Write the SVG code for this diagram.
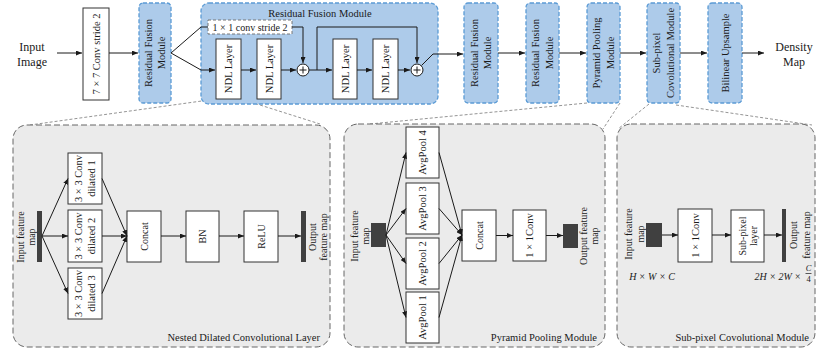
<svg xmlns="http://www.w3.org/2000/svg" width="830" height="352" viewBox="0 0 830 352">
<defs>
<marker id="ah" markerWidth="6" markerHeight="5" refX="6" refY="2.5" orient="auto" markerUnits="userSpaceOnUse">
<path d="M0,0 L6,2.5 L0,5 z" fill="#1a1a1a"/>
</marker>
<style>
.blue{fill:#adcbea;stroke:#5b9bd5;stroke-width:1.3;stroke-dasharray:4 2}
.box{fill:#fff;stroke:#333;stroke-width:1}
.dbox{fill:#fff;stroke:#777;stroke-width:1;stroke-dasharray:3 2}
.panel{fill:#ebebeb;stroke:#666;stroke-width:1;stroke-dasharray:6 3}
.t{font-family:"Liberation Serif","Times New Roman",serif;font-size:10.5px;fill:#1a1a1a;text-anchor:middle}
.s{font-size:10px}
.big{font-size:12px}
.m{font-style:italic;font-size:10px}
.bar{fill:#404040}
.c{stroke:#1a1a1a;stroke-width:1;fill:none}
.a{marker-end:url(#ah)}
.co{stroke:#888;stroke-width:0.9;stroke-dasharray:3 2;fill:none}
</style>
</defs>

<!-- callout lines -->
<g id="callouts">
<path class="co" d="M216,99 L30,125"/>
<path class="co" d="M241,99 L320,124"/>
<path class="co" d="M587,103 L370,124"/>
<path class="co" d="M620,103 L603,129"/>
<path class="co" d="M649,104 L618,129"/>
<path class="co" d="M676,105 L812,125"/>
</g>

<!-- top row -->
<g id="input-image">
<text class="t big" x="32" y="51">Input</text>
<text class="t big" x="32" y="66">Image</text>
</g>
<g id="conv7">
<rect class="box" x="83" y="8" width="26" height="92"/>
<text class="t" transform="translate(96,54) rotate(-90)" y="3.5">7 × 7 Conv stride 2</text>
</g>
<g id="rfm1">
<rect class="blue" x="139" y="3" width="32" height="100" rx="4"/>
<text class="t" transform="translate(155,53) rotate(-90)"><tspan x="0" y="-3.5">Residual Fusion</tspan><tspan x="0" y="10">Module</tspan></text>
</g>
<g id="rfm-detail">
<rect class="blue" x="201" y="3" width="237" height="101" rx="8"/>
<text class="t" x="320" y="17">Residual Fusion Module</text>
</g>
<g id="conv1x1-s2">
<rect class="dbox" x="208" y="20" width="84" height="14"/>
<text class="t s" x="250" y="30.5">1 × 1 conv stride 2</text>
</g>
<g id="ndl1">
<rect class="box" x="216" y="39" width="25" height="60"/>
<text class="t" transform="translate(228.5,69) rotate(-90)" y="3.5">NDL Layer</text>
</g>
<g id="ndl2">
<rect class="box" x="257" y="39" width="24" height="60"/>
<text class="t" transform="translate(269,69) rotate(-90)" y="3.5">NDL Layer</text>
</g>
<g id="add1">
<circle cx="303" cy="70" r="6" fill="#fff" stroke="#1a1a1a" stroke-width="1"/>
<path class="c" d="M299.5,70 H306.5 M303,66.5 V73.5"/>
</g>
<g id="ndl3">
<rect class="box" x="333" y="39" width="24" height="60"/>
<text class="t" transform="translate(345,69) rotate(-90)" y="3.5">NDL Layer</text>
</g>
<g id="ndl4">
<rect class="box" x="373" y="39" width="25" height="60"/>
<text class="t" transform="translate(385.5,69) rotate(-90)" y="3.5">NDL Layer</text>
</g>
<g id="add2">
<circle cx="417" cy="70" r="6" fill="#fff" stroke="#1a1a1a" stroke-width="1"/>
<path class="c" d="M413.5,70 H420.5 M417,66.5 V73.5"/>
</g>
<g id="rfm2">
<rect class="blue" x="464" y="3" width="34" height="100" rx="4"/>
<text class="t" transform="translate(481,53) rotate(-90)"><tspan x="0" y="-3.5">Residual Fusion</tspan><tspan x="0" y="10">Module</tspan></text>
</g>
<g id="rfm3">
<rect class="blue" x="526" y="3" width="33" height="100" rx="4"/>
<text class="t" transform="translate(542.5,53) rotate(-90)"><tspan x="0" y="-3.5">Residual Fusion</tspan><tspan x="0" y="10">Module</tspan></text>
</g>
<g id="ppm">
<rect class="blue" x="587" y="3" width="33" height="100" rx="4"/>
<text class="t" transform="translate(603.5,53) rotate(-90)"><tspan x="0" y="-3.5">Pyramid Pooling</tspan><tspan x="0" y="10">Module</tspan></text>
</g>
<g id="scm">
<rect class="blue" x="647" y="3" width="33" height="100" rx="4"/>
<text class="t" transform="translate(663.5,53) rotate(-90)"><tspan x="0" y="-3.5">Sub-pixel</tspan><tspan x="0" y="10">Covolutional Module</tspan></text>
</g>
<g id="bilinear">
<rect class="blue" x="708" y="3" width="34" height="100" rx="4"/>
<text class="t" transform="translate(725,53) rotate(-90)" y="3.5">Bilinear Upsample</text>
</g>
<g id="density-map">
<text class="t big" x="794" y="51">Density</text>
<text class="t big" x="794" y="66">Map</text>
</g>

<!-- top connectors -->
<g id="connectors-top">
<path class="c a" d="M57,53 H82"/>
<path class="c a" d="M109,53 H138"/>
<path class="c" d="M171,53 L201,27 H208"/>
<path class="c a" d="M171,53 L201,70 H215"/>
<path class="c a" d="M241,70 H256"/>
<path class="c a" d="M281,70 H296"/>
<path class="c a" d="M292,27 H303 V63"/>
<path class="c a" d="M309,70 H332"/>
<path class="c a" d="M317,70 V27 H417 V63"/>
<path class="c a" d="M357,70 H372"/>
<path class="c a" d="M398,70 H410"/>
<path class="c a" d="M421.5,65.5 L433,54 H463"/>
<path class="c a" d="M498,53 H525"/>
<path class="c a" d="M559,53 H586"/>
<path class="c a" d="M620,53 H646"/>
<path class="c a" d="M680,53 H707"/>
<path class="c a" d="M742,53 H764"/>
</g>

<!-- panel 1: NDL -->
<g id="panel-ndl">
<rect class="panel" x="13" y="125" width="317" height="222" rx="14"/>
<text class="t" x="320" y="341" style="text-anchor:end">Nested Dilated Convolutional Layer</text>
</g>
<g id="ndl-input">
<rect class="bar" x="37" y="211" width="5" height="51"/>
<text class="t s" transform="translate(25.5,237) rotate(-90)"><tspan x="0" y="-2">Input feature</tspan><tspan x="0" y="9">map</tspan></text>
</g>
<g id="dil1">
<rect class="box" x="68" y="153" width="34" height="51"/>
<text class="t" transform="translate(85,178.5) rotate(-90)"><tspan x="0" y="-3">3 × 3 Conv</tspan><tspan x="0" y="9.5">dilated 1</tspan></text>
</g>
<g id="dil2">
<rect class="box" x="68" y="210" width="34" height="52"/>
<text class="t" transform="translate(85,236) rotate(-90)"><tspan x="0" y="-3">3 × 3 Conv</tspan><tspan x="0" y="9.5">dilated 2</tspan></text>
</g>
<g id="dil3">
<rect class="box" x="68" y="268" width="34" height="51"/>
<text class="t" transform="translate(85,293.5) rotate(-90)"><tspan x="0" y="-3">3 × 3 Conv</tspan><tspan x="0" y="9.5">dilated 3</tspan></text>
</g>
<g id="ndl-concat">
<rect class="box" x="127" y="211" width="34" height="51"/>
<text class="t s" transform="translate(144,236.5) rotate(-90)" y="3.5">Concat</text>
</g>
<g id="ndl-bn">
<rect class="box" x="186" y="211" width="33" height="51"/>
<text class="t s" transform="translate(202.5,236.5) rotate(-90)" y="3.5">BN</text>
</g>
<g id="ndl-relu">
<rect class="box" x="244" y="211" width="34" height="51"/>
<text class="t s" transform="translate(261,236.5) rotate(-90)" y="3.5">ReLU</text>
</g>
<g id="ndl-output">
<rect class="bar" x="301" y="211" width="5" height="51"/>
<text class="t s" transform="translate(317.5,237) rotate(-90)"><tspan x="0" y="-2">Output</tspan><tspan x="0" y="9">feature map</tspan></text>
</g>

<!-- panel 2: PPM -->
<g id="panel-ppm">
<rect class="panel" x="344" y="124" width="261" height="223" rx="14"/>
<text class="t" x="597" y="341" style="text-anchor:end">Pyramid Pooling Module</text>
</g>
<g id="ppm-input">
<rect class="bar" x="371" y="223" width="15" height="24"/>
<text class="t s" transform="translate(360,236) rotate(-90)"><tspan x="0" y="-2">Input feature</tspan><tspan x="0" y="9">map</tspan></text>
</g>
<g id="avg4">
<rect class="box" x="406" y="127" width="33" height="51"/>
<text class="t" transform="translate(422.5,152.5) rotate(-90)" y="3.5">AvgPool 4</text>
</g>
<g id="avg3">
<rect class="box" x="406" y="183" width="33" height="51"/>
<text class="t" transform="translate(422.5,208.5) rotate(-90)" y="3.5">AvgPool 3</text>
</g>
<g id="avg2">
<rect class="box" x="406" y="238" width="33" height="51"/>
<text class="t" transform="translate(422.5,263.5) rotate(-90)" y="3.5">AvgPool 2</text>
</g>
<g id="avg1">
<rect class="box" x="406" y="292" width="33" height="51"/>
<text class="t" transform="translate(422.5,317.5) rotate(-90)" y="3.5">AvgPool 1</text>
</g>
<g id="ppm-concat">
<rect class="box" x="462" y="210" width="34" height="51"/>
<text class="t s" transform="translate(479,235.5) rotate(-90)" y="3.5">Concat</text>
</g>
<g id="ppm-conv">
<rect class="box" x="513" y="210" width="33" height="51"/>
<text class="t" transform="translate(529.5,235.5) rotate(-90)" y="3.5">1 × 1Conv</text>
</g>
<g id="ppm-output">
<rect class="bar" x="563" y="224" width="15" height="24"/>
<text class="t s" transform="translate(589,236) rotate(-90)"><tspan x="0" y="-2">Output feature</tspan><tspan x="0" y="9">map</tspan></text>
</g>

<!-- panel 3: SCM -->
<g id="panel-scm">
<rect class="panel" x="617" y="124" width="198" height="223" rx="14"/>
<text class="t" x="809" y="341" style="text-anchor:end">Sub-pixel Covolutional Module</text>
</g>
<g id="scm-input">
<rect class="bar" x="646" y="223" width="16" height="24"/>
<text class="t s" transform="translate(634,234) rotate(-90)"><tspan x="0" y="-2">Input feature</tspan><tspan x="0" y="10">map</tspan></text>
<text class="t m" x="652" y="280">H × W × C</text>
</g>
<g id="scm-conv">
<rect class="box" x="678" y="209" width="34" height="53"/>
<text class="t" transform="translate(695,235.5) rotate(-90)" y="3.5">1 × 1Conv</text>
</g>
<g id="scm-subpixel">
<rect class="box" x="731" y="210" width="33" height="52"/>
<text class="t s" transform="translate(747.5,236) rotate(-90)"><tspan x="0" y="-2">Sub-pixel</tspan><tspan x="0" y="9.5">layer</tspan></text>
</g>
<g id="scm-output">
<rect class="bar" x="782" y="209" width="4" height="53"/>
<text class="t s" transform="translate(800,235) rotate(-90)"><tspan x="0" y="-3">Output</tspan><tspan x="0" y="10">feature map</tspan></text>
<text class="t m" x="801" y="280" style="text-anchor:end">2H × 2W ×</text>
<text class="t m" x="808.5" y="271" style="font-size:8.5px">C</text>
<path d="M805.5,273.5 H811.5" stroke="#1a1a1a" stroke-width="0.7"/>
<text class="t" x="808.5" y="282" style="font-size:8.5px">4</text>
</g>

<!-- bottom connectors -->
<g id="connectors-bottom">
<path class="c a" d="M42,236 L68,178.5"/>
<path class="c a" d="M42,236 H68"/>
<path class="c a" d="M42,236 L68,293.5"/>
<path class="c a" d="M102,178.5 L127,236"/>
<path class="c a" d="M102,236 H127"/>
<path class="c a" d="M102,293.5 L127,236"/>
<path class="c a" d="M161,236 H186"/>
<path class="c a" d="M219,236 H244"/>
<path class="c a" d="M278,236 H301"/>

<path class="c a" d="M386,235 L406,152.5"/>
<path class="c a" d="M386,235 L406,208.5"/>
<path class="c a" d="M386,235 L406,263.5"/>
<path class="c a" d="M386,235 L406,317.5"/>
<path class="c a" d="M439,152.5 L462,235"/>
<path class="c a" d="M439,208.5 L462,235"/>
<path class="c a" d="M439,263.5 L462,235"/>
<path class="c a" d="M439,317.5 L462,235"/>
<path class="c a" d="M496,235.5 H513"/>
<path class="c a" d="M546,235.5 H563"/>

<path class="c a" d="M662,235 H678"/>
<path class="c a" d="M712,235 H731"/>
<path class="c a" d="M764,235 H782"/>
</g>
</svg>
